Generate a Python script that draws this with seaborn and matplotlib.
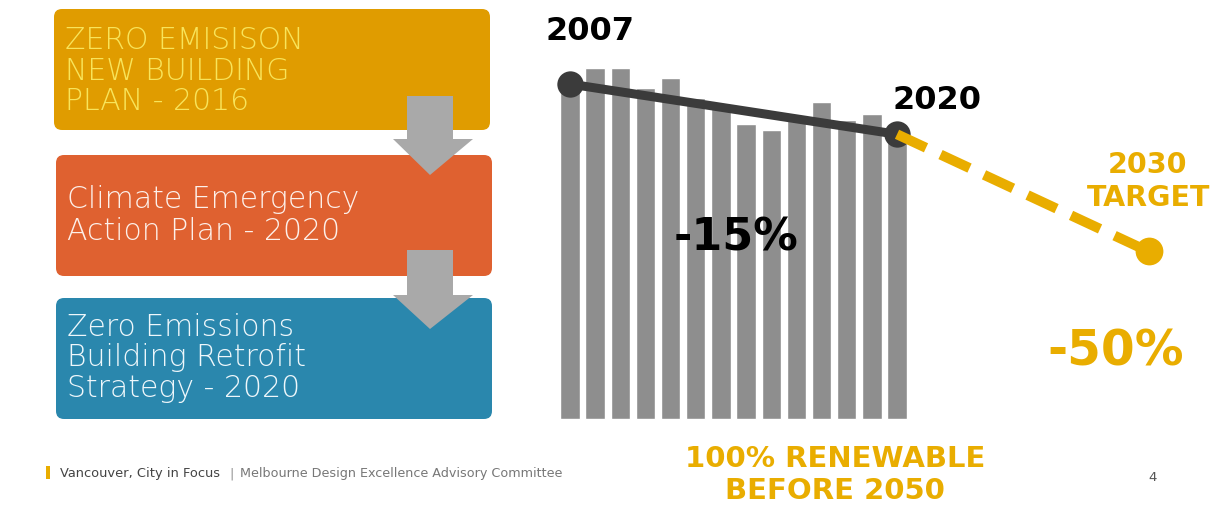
import numpy as np
import pandas as pd
import matplotlib
matplotlib.use("Agg")
import matplotlib.pyplot as plt
from matplotlib.patches import FancyBboxPatch, Polygon
import seaborn as sns

# ---- data ----
years = [2007, 2008, 2009, 2010, 2011, 2012, 2013, 2014, 2015, 2016, 2017, 2018, 2019, 2020]
emissions = [101.5, 104.8, 104.8, 98.8, 101.8, 95.8, 93.1, 88.1, 86.3, 90.4, 94.6, 89.3, 91.0, 88.0]
trend_years = [2007, 2020]
trend_values = [100, 85]
target_years = [2020, 2030]
target_values = [85, 50]
box_texts = ["ZERO EMISISON\nNEW BUILDING\nPLAN - 2016",
             "Climate Emergency\nAction Plan - 2020",
             "Zero Emissions\nBuilding Retrofit\nStrategy - 2020"]

GRAY_BAR = "#8e8e8e"
DARK = "#3b3b3b"
YELLOW = "#e9ad00"

sns.set_theme(style="white")
plt.rcParams['font.family'] = ['DejaVu Sans']

fig = plt.figure(figsize=(12.2, 5.06), dpi=100)
fig.patch.set_facecolor("white")

# ---- chart axes ----
ax = fig.add_axes([0, 0, 1, 1])
df = pd.DataFrame({"year": years, "value": emissions})
sns.barplot(data=df, x="year", y="value", native_scale=True, width=0.77,
            color=GRAY_BAR, saturation=1, ax=ax, zorder=1)
tdf = pd.DataFrame({"year": trend_years, "value": trend_values})
sns.lineplot(data=tdf, x="year", y="value", color=DARK, lw=6.5, ax=ax, zorder=3)
ax.scatter(trend_years, trend_values, s=360, color=DARK, zorder=4, linewidths=0)
gdf = pd.DataFrame({"year": target_years, "value": target_values})
sns.lineplot(data=gdf, x="year", y="value", color=YELLOW, lw=7.2, ax=ax,
             dashes=False, zorder=5).lines[-1].set_dashes((3.2, 1.6))
ax.scatter([target_years[-1]], [target_values[-1]], s=400, color=YELLOW, zorder=6, linewidths=0)
ax.set_xlim(1984.34, 2032.84)
ax.set_ylim(-25.7, 125.4)
ax.axis("off")

# ---- slide overlay ----
o = fig.add_axes([0, 0, 1, 1], zorder=10)
o.set_xlim(0, 1220)
o.set_ylim(506, 0)
o.axis("off")
o.patch.set_alpha(0)

boxes = [(54, 10, 436, 121, "#e09c00", "#f8e45a", [40, 71, 101]),
         (56, 156, 436, 121, "#df6130", "#fdf0ea", [200, 231]),
         (56, 299, 436, 121, "#2a87ad", "#eef7fb", [328, 358, 389])]
for (x, y, w, h, fc, tc, ys), txt in zip(boxes, box_texts):
    o.add_patch(FancyBboxPatch((x + 8, y + 8), w - 16, h - 16,
                               boxstyle="round,pad=8", fc=fc, ec="none"))
    for line, yy in zip(txt.split("\n"), ys):
        o.text(x + 11, yy, line, color=tc, fontsize=21.5, fontweight=200,
               va="center", ha="left")

for top, mid, bot in [(97, 140, 176), (251, 296, 330)]:
    o.add_patch(Polygon([(407, top), (453, top), (453, mid), (473, mid),
                         (430, bot), (393, mid), (407, mid)],
                        closed=True, fc="#a9a9a9", ec="none"))

o.text(590, 31, "2007", fontsize=23, fontweight="bold", color="black", ha="center", va="center")
o.text(937, 100, "2020", fontsize=23, fontweight="bold", color="black", ha="center", va="center")
o.text(736, 238, "-15%", fontsize=32, fontweight="bold", color="black", ha="center", va="center")
o.text(1148, 165, "2030", fontsize=20.5, fontweight="bold", color=YELLOW, ha="center", va="center")
o.text(1149, 198, "TARGET", fontsize=20.5, fontweight="bold", color=YELLOW, ha="center", va="center")
o.text(1116, 352, "-50%", fontsize=35, fontweight="bold", color=YELLOW, ha="center", va="center")
o.text(835, 459, "100% RENEWABLE", fontsize=21, fontweight="bold", color=YELLOW, ha="center", va="center")
o.text(835, 491, "BEFORE 2050", fontsize=21, fontweight="bold", color=YELLOW, ha="center", va="center")

o.add_patch(plt.Rectangle((46, 467), 4, 13, fc=YELLOW, ec="none"))
o.text(60, 474, "Vancouver, City in Focus", fontsize=9.4, color="#444444", ha="left", va="center")
o.text(229, 474, "|", fontsize=9.4, color="#999999", ha="left", va="center")
o.text(240, 474, "Melbourne Design Excellence Advisory Committee", fontsize=9.2,
       color="#777777", ha="left", va="center")
o.text(1153, 478, "4", fontsize=9.5, color="#555555", ha="center", va="center")

fig.savefig("out.png", dpi=100, facecolor="white")
